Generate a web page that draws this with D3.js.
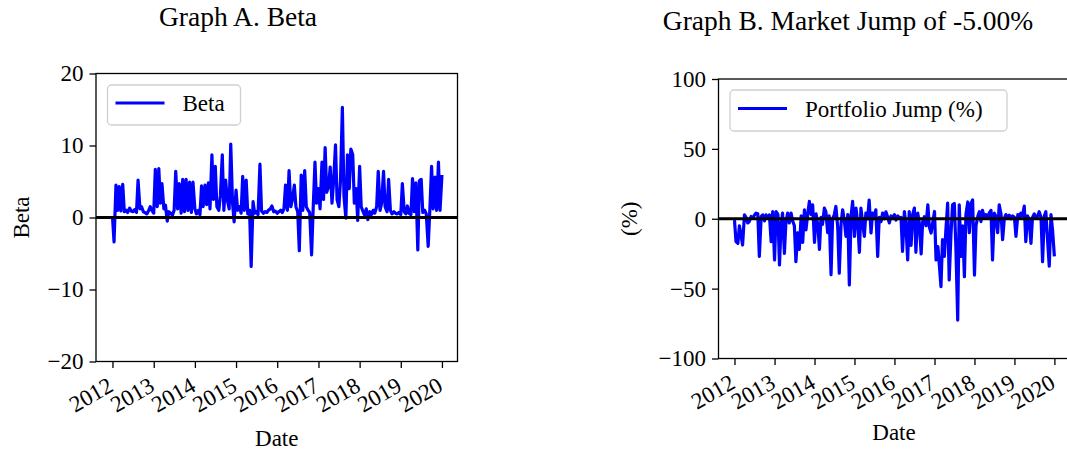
<!DOCTYPE html>
<html>
<head>
<meta charset="utf-8">
<script src="https://cdn.jsdelivr.net/npm/d3@7"></script>
<style>
  body { margin: 0; background: #fff; }
  svg text { font-family: "Liberation Serif", "DejaVu Serif", serif; fill: #000; }
</style>
</head>
<body>
<div id="chart"></div>
<script>
// semi-monthly observation dates
const dates = [
  "2012-01-01","2012-01-15","2012-02-01","2012-02-15","2012-03-01","2012-03-15","2012-04-01","2012-04-15","2012-05-01","2012-05-15","2012-06-01","2012-06-15","2012-07-01","2012-07-15","2012-08-01","2012-08-15","2012-09-01","2012-09-15","2012-10-01","2012-10-15","2012-11-01","2012-11-15","2012-12-01","2012-12-15",
  "2013-01-01","2013-01-15","2013-02-01","2013-02-15","2013-03-01","2013-03-15","2013-04-01","2013-04-15","2013-05-01","2013-05-15","2013-06-01","2013-06-15","2013-07-01","2013-07-15","2013-08-01","2013-08-15","2013-09-01","2013-09-15","2013-10-01","2013-10-15","2013-11-01","2013-11-15","2013-12-01","2013-12-15",
  "2014-01-01","2014-01-15","2014-02-01","2014-02-15","2014-03-01","2014-03-15","2014-04-01","2014-04-15","2014-05-01","2014-05-15","2014-06-01","2014-06-15","2014-07-01","2014-07-15","2014-08-01","2014-08-15","2014-09-01","2014-09-15","2014-10-01","2014-10-15","2014-11-01","2014-11-15","2014-12-01","2014-12-15",
  "2015-01-01","2015-01-15","2015-02-01","2015-02-15","2015-03-01","2015-03-15","2015-04-01","2015-04-15","2015-05-01","2015-05-15","2015-06-01","2015-06-15","2015-07-01","2015-07-15","2015-08-01","2015-08-15","2015-09-01","2015-09-15","2015-10-01","2015-10-15","2015-11-01","2015-11-15","2015-12-01","2015-12-15",
  "2016-01-01","2016-01-15","2016-02-01","2016-02-15","2016-03-01","2016-03-15","2016-04-01","2016-04-15","2016-05-01","2016-05-15","2016-06-01","2016-06-15","2016-07-01","2016-07-15","2016-08-01","2016-08-15","2016-09-01","2016-09-15","2016-10-01","2016-10-15","2016-11-01","2016-11-15","2016-12-01","2016-12-15",
  "2017-01-01","2017-01-15","2017-02-01","2017-02-15","2017-03-01","2017-03-15","2017-04-01","2017-04-15","2017-05-01","2017-05-15","2017-06-01","2017-06-15","2017-07-01","2017-07-15","2017-08-01","2017-08-15","2017-09-01","2017-09-15","2017-10-01","2017-10-15","2017-11-01","2017-11-15","2017-12-01","2017-12-15",
  "2018-01-01","2018-01-15","2018-02-01","2018-02-15","2018-03-01","2018-03-15","2018-04-01","2018-04-15","2018-05-01","2018-05-15","2018-06-01","2018-06-15","2018-07-01","2018-07-15","2018-08-01","2018-08-15","2018-09-01","2018-09-15","2018-10-01","2018-10-15","2018-11-01","2018-11-15","2018-12-01","2018-12-15",
  "2019-01-01","2019-01-15","2019-02-01","2019-02-15","2019-03-01","2019-03-15","2019-04-01","2019-04-15","2019-05-01","2019-05-15","2019-06-01","2019-06-15","2019-07-01","2019-07-15","2019-08-01","2019-08-15","2019-09-01","2019-09-15","2019-10-01","2019-10-15","2019-11-01","2019-11-15","2019-12-01","2019-12-15",
  "2020-01-01"
];

const betaValues = [
  0.2, -3.4, 4.5, 1.0, 4.3, 0.9, 4.6, 0.8, 1.0, 0.7,
  1.3, 0.9, 0.8, 1.1, 0.7, 5.2, 1.2, 1.5, 0.8, 0.7,
  0.5, 0.9, 1.5, 1.0, 0.6, 6.7, 1.5, 6.8, 2.0, 4.7,
  1.2, 1.7, -0.5, 0.8, 0.6, 0.3, 1.0, 6.4, 1.2, 4.7,
  0.6, 5.3, 0.8, 5.3, 1.0, 4.9, 0.7, 4.9, 1.2, 0.5,
  1.0, 0.4, 4.4, 1.5, 4.5, 1.8, 4.8, 1.2, 8.7, 2.5,
  7.1, 1.5, 1.0, 3.0, 8.7, 1.0, 5.2, 2.5, 1.2, 10.2,
  2.0, -0.6, 3.8, 1.0, 1.5, 0.6, 5.7, 1.0, 5.2, 0.5,
  1.0, -6.8, 2.2, 0.6, 0.8, 0.4, 7.4, 0.9, 0.6, 0.8,
  0.7, 1.0, 1.2, 1.6, 0.8, 0.9, 0.6, 0.8, 1.0, 0.7,
  1.2, 4.5, 1.0, 6.5, 1.5, 2.5, 4.5, 1.5, 0.8, -4.6,
  5.9, 1.0, 6.5, 1.5, 1.0, 0.7, -5.2, 1.2, 7.7, 2.0,
  4.0, 1.2, 7.7, 2.5, 9.7, 3.5, 4.3, 7.0, 2.0, 5.0,
  10.1, 2.5, 1.5, 5.0, 15.3, 3.0, -0.1, 8.7, 4.0, 9.5,
  8.7, 2.0, 4.0, -0.4, 7.1, 1.5, 0.8, 0.3, 1.2, -0.3,
  0.8, 0.4, 1.0, 0.6, 1.5, 6.4, 1.0, 2.0, 6.4, 1.5,
  0.8, 5.3, 1.0, 0.5, 0.8, 0.6, 0.5, 0.7, 0.4, 4.7,
  0.8, 0.5, 1.6, 0.6, 0.4, 5.4, 0.8, 4.8, -4.5, 5.1,
  5.3, 0.7, 1.0, 0.5, -4.0, 0.8, 7.1, 1.2, 5.6, 1.0,
  7.7, 1.0, 5.9
];

const jumpValues = [
  -1.0, -16.4, -17.6, -5, -12, -18.8, 2.8, 1.0, -3, -2,
  1.6, 0.5, 2.5, 4.0, 3.5, -27, 1.5, 2.8, -1.5, 2.8,
  0.5, 2.8, -16.4, 5.2, -29.5, 5.2, 3.0, -33, -5, 4.0,
  -24.8, -2, 4.0, -3, 4.0, -1.5, -5, -30.7, -10, -22,
  2, -17, 6.4, -8, 4, 12.4, 3, 10, -17, 3.5,
  -5, -22, 1, -4, 7.6, 5, -10, 2, -40, 0,
  3, 8.8, -6, -39, -3, 6.4, -2, -12.6, 3, -47.4,
  2, 12.4, -12.6, 7.6, -4, -24, 7.6, -2, -12.6, 4,
  0, 13.4, -10.2, 4, 2, 6.4, -27, 1, -2, 4,
  0, 5, 1, -3, 2, 0.5, 3, -1, 2, 0.5,
  1, -23.3, 5.2, -5, -29.5, 5.2, -19, 3, 7.6, -24,
  4, -3, -25.2, -2, 1.5, -5, 10, -6, -10.2, -3,
  5.2, -29.5, -20, -34, -48.6, -15, -27, -8, 11.2, -43.8,
  -10, 10, 11, -20, -72.5, 10, -27, -5, -41.5, 3,
  12, -10, 11, 13.4, -40.3, -5, 2, 5, -2, 6,
  1, 3, 0.5, 4, 6, -29.5, 4, 2, -10, 10,
  3, -15, 0.5, 3, 1, 2.5, 0, 2, 1, -12.6,
  3, 1, 4, 2, 9, -16.4, 2, 0, -17.6, 1,
  3.5, 1, 2, 5, 1, -30.7, 2, 5, -17, -34,
  3, -8, -27
];

const betaTicks = [-20, -10, 0, 10, 20];
const jumpTicks = [-100, -50, 0, 50, 100];
const yearTicks = ["2012","2013","2014","2015","2016","2017","2018","2019","2020"];

const W = 1067, H = 454;
const parse = d3.timeParse("%Y-%m-%d");
const parseYear = d3.timeParse("%Y");
const xDomain = [new Date(2011, 7, 8), new Date(2020, 4, 18)];

const svg = d3.select('#chart')
  .append('svg')
    .attr('width', W)
    .attr('height', H);

function panel(opts) {
  const x = d3.scaleTime().domain(xDomain).range([opts.left, opts.right]);
  const y = d3.scaleLinear().domain(opts.yDomain).range([opts.bottom, opts.top]);
  const g = svg.append('g');

  const rows = dates.map((d, i) => ({ date: parse(d), v: opts.values[i] }));

  g.append('clipPath').attr('id', opts.id + '-clip')
    .append('rect')
      .attr('x', opts.left).attr('y', opts.top)
      .attr('width', opts.right - opts.left).attr('height', opts.bottom - opts.top);

  const plot = g.append('g').attr('clip-path', `url(#${opts.id}-clip)`);

  plot.append('path')
    .datum(rows)
    .attr('fill', 'none')
    .attr('stroke', '#0000ff')
    .attr('stroke-width', 3.2)
    .attr('stroke-linejoin', 'round')
    .attr('d', d3.line().x(d => x(d.date)).y(d => y(d.v)));

  // zero line
  plot.append('line')
    .attr('x1', opts.left).attr('x2', opts.right)
    .attr('y1', y(0)).attr('y2', y(0))
    .attr('stroke', '#000')
    .attr('stroke-width', 2.8);

  // spines
  g.append('rect')
    .attr('x', opts.left).attr('y', opts.top)
    .attr('width', opts.right - opts.left).attr('height', opts.bottom - opts.top)
    .attr('fill', 'none').attr('stroke', '#000').attr('stroke-width', 1.3);

  // y axis
  const yAxis = g.append('g')
    .attr('transform', `translate(${opts.left},0)`)
    .call(d3.axisLeft(y).tickValues(opts.yTicks).tickSize(6.5).tickPadding(6)
      .tickFormat(d => d < 0 ? '\u2212' + Math.abs(d) : String(d)));
  yAxis.select('.domain').remove();
  yAxis.selectAll('.tick line').attr('stroke', '#000').attr('stroke-width', 1.3);
  yAxis.selectAll('.tick text')
    .attr('font-size', 23)
    .attr('font-family', '"Liberation Serif", serif');

  // x axis
  const xAxis = g.append('g')
    .attr('transform', `translate(0,${opts.bottom})`)
    .call(d3.axisBottom(x).tickValues(yearTicks.map(parseYear)).tickSize(6.5)
      .tickFormat(d3.timeFormat('%Y')));
  xAxis.select('.domain').remove();
  xAxis.selectAll('.tick line').attr('stroke', '#000').attr('stroke-width', 1.3);
  xAxis.selectAll('.tick text')
    .attr('font-size', 23)
    .attr('font-family', '"Liberation Serif", serif')
    .attr('text-anchor', 'end')
    .attr('x', 0).attr('y', 0).attr('dy', '0.68em')
    .attr('transform', 'translate(-6,15) rotate(-30)');

  // axis labels
  g.append('text')
    .attr('x', (opts.left + opts.right) / 2)
    .attr('y', opts.xLabelY)
    .attr('text-anchor', 'middle')
    .attr('font-size', 23)
    .text('Date');

  g.append('text')
    .attr('transform', `translate(${opts.yLabelX},${(opts.top + opts.bottom) / 2}) rotate(-90)`)
    .attr('text-anchor', 'middle')
    .attr('dy', '0.35em')
    .attr('font-size', 23)
    .text(opts.yLabel);

  // title
  g.append('text')
    .attr('x', opts.titleX).attr('y', opts.titleY)
    .attr('text-anchor', 'middle')
    .attr('font-size', 27.5)
    .text(opts.title);

  // legend
  const lg = g.append('g');
  lg.append('rect')
    .attr('x', opts.legend.x).attr('y', opts.legend.y)
    .attr('width', opts.legend.w).attr('height', opts.legend.h)
    .attr('rx', 4)
    .attr('fill', '#fff').attr('fill-opacity', 0.8)
    .attr('stroke', '#d0d0d0').attr('stroke-width', 1.3);
  lg.append('line')
    .attr('x1', opts.legend.x + 8).attr('x2', opts.legend.x + 57)
    .attr('y1', opts.legend.y + opts.legend.h / 2 - 2)
    .attr('y2', opts.legend.y + opts.legend.h / 2 - 2)
    .attr('stroke', '#0000ff').attr('stroke-width', 3.2);
  lg.append('text')
    .attr('x', opts.legend.x + 75)
    .attr('y', opts.legend.y + opts.legend.h / 2 - 2)
    .attr('dy', '0.35em')
    .attr('font-size', 23)
    .text(opts.legendLabel);
}

panel({
  id: 'a',
  values: betaValues,
  yDomain: [-20, 20],
  yTicks: betaTicks,
  left: 96, right: 457.5, top: 73.5, bottom: 361.5,
  title: 'Graph A. Beta', titleX: 238, titleY: 26,
  yLabel: 'Beta', yLabelX: 21,
  xLabelY: 446,
  legend: { x: 107.5, y: 85, w: 133, h: 40 },
  legendLabel: 'Beta'
});

panel({
  id: 'b',
  values: jumpValues,
  yDomain: [-100, 100],
  yTicks: jumpTicks,
  left: 718.5, right: 1069.5, top: 79, bottom: 358.5,
  title: 'Graph B. Market Jump of -5.00%', titleX: 848, titleY: 30,
  yLabel: '(%)', yLabelX: 629,
  xLabelY: 440,
  legend: { x: 730, y: 90, w: 277, h: 41 },
  legendLabel: 'Portfolio Jump (%)'
});
</script>
</body>
</html>
